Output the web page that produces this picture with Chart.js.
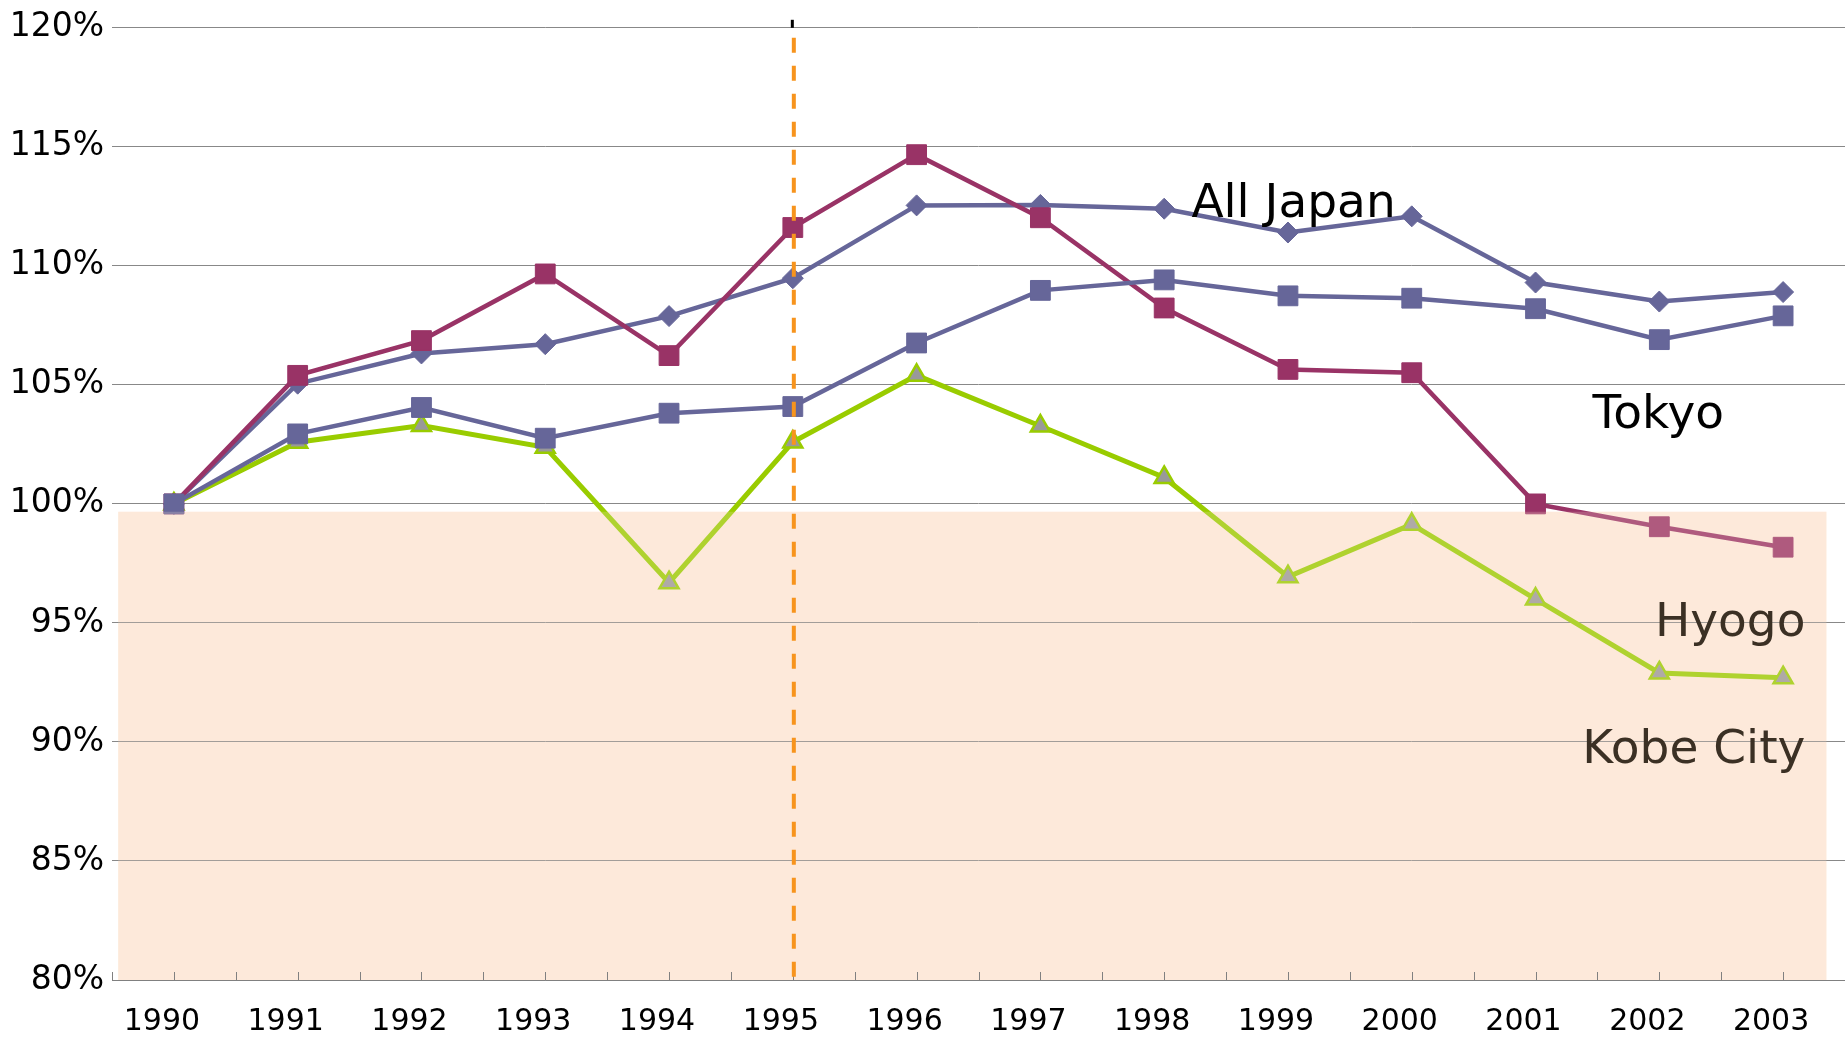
<!DOCTYPE html>
<html>
<head>
<meta charset="utf-8">
<script src="https://cdn.jsdelivr.net/npm/chart.js@4"></script>
<style>
  html, body { margin: 0; padding: 0; background: #fff; overflow: hidden; }
  #wrap { width: 1845px; height: 1041px; position: relative; }
  canvas { display: block; }
</style>
</head>
<body>
<div id="wrap"><canvas id="chart"></canvas></div>
<script>
// Population index (1990 = 100%)
const years = ['1990', '1991', '1992', '1993', '1994', '1995', '1996', '1997', '1998', '1999', '2000', '2001', '2002', '2003'];
const allJapan = [100, 105.05, 106.32, 106.71, 107.89, 109.48, 112.54, 112.56, 112.4, 111.4, 112.08, 109.3, 108.5, 108.9];
const tokyo = [100, 102.94, 104.05, 102.76, 103.81, 104.09, 106.76, 108.97, 109.41, 108.74, 108.64, 108.2, 106.9, 107.9];
const hyogo = [100, 105.4, 106.86, 109.66, 106.23, 111.61, 114.67, 112.02, 108.23, 105.65, 105.51, 100, 99.04, 98.18];
const kobeCity = [100, 102.59, 103.29, 102.38, 96.69, 102.6, 105.4, 103.27, 101.11, 96.94, 99.14, 96.0, 92.9, 92.7];

const yMin = 80;
const yMax = 120;
const bandTop = 99.67;      // shaded zone below 100%
const quakeYear = '1995';   // dashed marker

// series name labels: [text, category index, value, align, colour]
const seriesLabels = [
    ['All Japan', 8.22, 112.05, 'left', '#000'],
    ['Tokyo', 11.46, 103.2, 'left', '#000'],
    ['Hyogo', 13.18, 94.45, 'right', '#3b3024'],
    ['Kobe City', 13.18, 89.1, 'right', '#3b3024']
];

const FONT = "'DejaVu Sans', sans-serif";

const decor = {
    id: 'decor',
    beforeDraw(chart) {
        const { ctx, chartArea: a, scales: { x, y } } = chart;
        const step = x.getPixelForValue(1) - x.getPixelForValue(0);
        const left = a.left + step * 0.05;
        const right = x.getPixelForValue(years.length - 1) + step * 0.35;
        const top = y.getPixelForValue(bandTop);
        const bottom = y.getPixelForValue(yMin);
        ctx.save();
        ctx.fillStyle = '#fdeadb';
        ctx.fillRect(left, top, right - left, bottom - top);
        ctx.restore();
    },
    afterDatasetsDraw(chart) {
        const { ctx, chartArea: a, scales: { x, y } } = chart;
        const step = x.getPixelForValue(1) - x.getPixelForValue(0);
        const left = a.left + step * 0.05;
        const right = x.getPixelForValue(years.length - 1) + step * 0.35;
        const top = y.getPixelForValue(bandTop);
        const bottom = y.getPixelForValue(yMin);
        ctx.save();
        // light tint over the lines inside the shaded zone
        ctx.fillStyle = 'rgba(253, 233, 214, 0.22)';
        ctx.fillRect(left, top, right - left, bottom - top);

        // small tick marks on the x axis (every half category)
        ctx.strokeStyle = '#808080';
        ctx.lineWidth = 1;
        ctx.beginPath();
        for (let k = 0; k <= years.length * 2; k++) {
            const px = Math.round(a.left + k * step / 2) + 0.5;
            ctx.moveTo(px, bottom);
            ctx.lineTo(px, bottom - 8);
        }
        ctx.stroke();

        // dashed line at 1995
        const qx = x.getPixelForValue(years.indexOf(quakeYear)) + 1;
        ctx.strokeStyle = '#f7941d';
        ctx.lineWidth = 4;
        ctx.setLineDash([15, 13]);
        ctx.beginPath();
        ctx.moveTo(qx, a.top + 10);
        ctx.lineTo(qx, bottom);
        ctx.stroke();
        ctx.setLineDash([]);
        ctx.fillStyle = '#000';
        ctx.fillRect(qx - 3, a.top - 8, 3, 8);

        // series labels
        ctx.font = '47px ' + FONT;
        ctx.textBaseline = 'alphabetic';
        seriesLabels.forEach(([text, xi, v, align, col]) => {
            const px = x.getPixelForValue(0) + xi * step;
            ctx.textAlign = align;
            ctx.fillStyle = col;
            ctx.fillText(text, px, y.getPixelForValue(v));
        });
        ctx.restore();
    }
};

const line = (label, data, color, style, radius, order, extra) => Object.assign({
    label,
    data,
    borderColor: color,
    backgroundColor: color,
    borderWidth: 4.5,
    pointStyle: style,
    pointRadius: radius,
    pointBorderWidth: 1,
    pointBorderColor: color,
    pointBackgroundColor: color,
    tension: 0,
    order
}, extra || {});

new Chart(document.getElementById('chart'), {
    type: 'line',
    data: {
        labels: years,
        datasets: [
            line('Kobe City', kobeCity, '#99cc00', 'triangle', 11, 4, {
                borderWidth: 5, pointBackgroundColor: '#999999', pointBorderWidth: 2.5
            }),
            line('All Japan', allJapan, '#666699', 'rectRot', 10.5, 3),
            line('Hyogo', hyogo, '#993366', 'rect', 14, 2),
            line('Tokyo', tokyo, '#666699', 'rect', 14, 1)
        ]
    },
    options: {
        responsive: true,
        maintainAspectRatio: false,
        animation: false,
        layout: { autoPadding: false, padding: { left: 0, right: 0, top: 0, bottom: 0 } },
        plugins: {
            legend: { display: false },
            tooltip: { enabled: false }
        },
        scales: {
            x: {
                type: 'category',
                offset: true,
                grid: { display: false, drawTicks: false },
                border: { display: true, color: '#808080', width: 1 },
                ticks: {
                    color: '#000',
                    font: { family: FONT, size: 30 },
                    padding: 24,
                    labelOffset: -12,
                    maxRotation: 0,
                    autoSkip: false
                },
                afterFit: s => { s.height = 61; s.paddingRight = 0; s.paddingLeft = 0; }
            },
            y: {
                min: yMin,
                max: yMax,
                grid: { color: '#888888', lineWidth: 1, drawTicks: false },
                border: { display: false },
                ticks: {
                    stepSize: 5,
                    color: '#000',
                    font: { family: FONT, size: 33 },
                    padding: 8,
                    callback: v => v + '%'
                },
                afterFit: s => { s.width = 112; }
            }
        }
    },
    plugins: [decor]
});
</script>
</body>
</html>
